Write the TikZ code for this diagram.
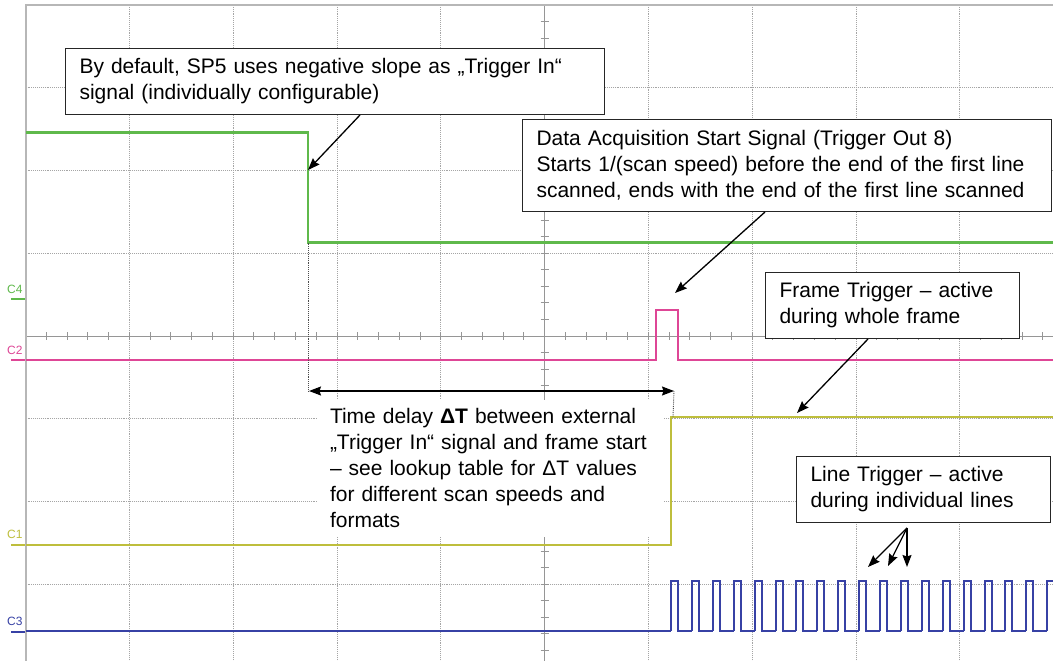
\documentclass[tikz,border=0pt]{standalone}
\usepackage{fontspec}
\setmainfont{Liberation Sans}
\usetikzlibrary{arrows.meta}
\definecolor{trgreen}{RGB}{95,185,75}
\definecolor{trpink}{RGB}{222,70,150}
\definecolor{trolive}{RGB}{190,190,60}
\definecolor{trblue}{RGB}{55,65,165}
\definecolor{gridgray}{RGB}{165,165,165}
\definecolor{axisgray}{RGB}{150,150,150}
\begin{document}
\begin{tikzpicture}[x=1pt,y=-1pt,
  gridline/.style={gridgray,densely dotted,line width=0.9pt},
  axisline/.style={axisgray,line width=1pt},
  borderline/.style={gridgray!80,line width=1.8pt},
  trace/.style={line width=2.2pt,line join=miter},
  callout/.style={draw=black!85,fill=white,line width=1pt,anchor=north west,
    align=left,inner xsep=14pt,inner ysep=0pt,
    font=\fontsize{21}{26}\selectfont},
  plaintext/.style={fill=white,align=left,inner xsep=12pt,inner ysep=0pt,
    font=\fontsize{21}{26}\selectfont},
  chlabel/.style={font=\fontsize{12}{12}\selectfont,inner sep=0pt,anchor=west},
  arr/.style={-{Stealth[length=12pt,width=9pt,inset=1.5pt]},line width=1.3pt,black},
  dblarr/.style={{Stealth[length=12pt,width=9pt,inset=1.5pt]}-{Stealth[length=12pt,width=9pt,inset=1.5pt]},line width=1.3pt,black},
  marker/.style={black!70,densely dotted,line width=0.9pt}]
\useasboundingbox (0,0) rectangle (1053,661);
\clip (0,0) rectangle (1053,661);
\fill[white] (0,0) rectangle (1053,661);

% grid
\foreach \k in {1,2,3,4,6,7,8,9}
  \draw[gridline] ({25.6+103.8*\k},5) -- ({25.6+103.8*\k},661);
\foreach \k in {1,2,3,5,6,7}
  \draw[gridline] (25.6,{5+82.75*\k}) -- (1053,{5+82.75*\k});
% center axes with ticks
\draw[axisline] (25.6,336) -- (1053,336);
\draw[axisline] (544.6,5) -- (544.6,661);
\foreach \k in {1,...,49}
  \draw[axisline] ({25.6+20.76*\k},332) -- ({25.6+20.76*\k},340);
\foreach \k in {1,...,39}
  \draw[axisline] (540.6,{5+16.55*\k}) -- (548.6,{5+16.55*\k});
% border
\draw[borderline] (25.6,661) -- (25.6,5) -- (1053,5);

% channel labels and offset markers
\node[chlabel,text=trgreen] (lc4) at (7,289) {C4};
\node[chlabel,text=trpink] (lc2) at (7,350) {C2};
\node[chlabel,text=trolive] (lc1) at (7,534) {C1};
\node[chlabel,text=trblue] (lc3) at (7,621) {C3};
\draw[trgreen,line width=2.5pt] (11,299) -- (25,299);
\draw[trpink,line width=2.5pt] (11,360) -- (25,360);
\draw[trolive,line width=2.5pt] (11,545) -- (25,545);
\draw[trblue,line width=2.5pt] (11,632) -- (25,632);

% traces
\draw[trace,trgreen,line width=2.8pt] (25.6,132.5) -- (308,132.5) -- (308,242.5) -- (1053,242.5);
\draw[trace,trpink,line width=2pt] (25.6,360) -- (656,360) -- (656,310) -- (678,310) -- (678,360) -- (1053,360);
\draw[trace,trolive,line width=2.4pt] (25.6,545) -- (671,545) -- (671,417) -- (1053,417);
\draw[trace,trblue,line width=2pt] (25.6,631) -- (671,631);
\foreach \k in {0,...,18}
  \draw[trace,trblue,line width=2pt] ({671+20.9*\k},631) -- ({671+20.9*\k},581)
     -- ({678+20.9*\k},581) -- ({678+20.9*\k},631) -- ({691.9+20.9*\k},631);

% time delay markers
\coordinate (gdrop) at (308,242.5);
\coordinate (orise) at (673,417);
\coordinate (d1) at (309,391);
\coordinate (d2) at (674,391);
\draw[marker] (gdrop) -- (308,391);
\draw[marker] (d2) -- (orise);
\draw[dblarr] (d1) -- (d2);

% callouts
\node[callout,minimum height=66pt,text width=511pt] (b1) at (65,48)
  {By default, SP5 uses negative slope as „Trigger In“\\signal (individually configurable)};
\node[callout,minimum height=92pt,text width=501pt] (b2) at (522,119)
  {Data Acquisition Start Signal (Trigger Out 8)\\Starts 1/(scan speed) before the end of the first line\\scanned, ends with the end of the first line scanned};
\node[callout,minimum height=66pt,text width=226pt] (b3) at (765,272)
  {Frame Trigger – active\\during whole frame};
\node[callout,minimum height=66pt,text width=226pt] (b5) at (796,456)
  {Line Trigger – active\\during individual lines};
\node[plaintext,minimum height=137pt,text width=321pt] (b4) at (490.5,468)
  {Time delay \textbf{ΔT} between external\\„Trigger In“ signal and frame start\\– see lookup table for ΔT values\\for different scan speeds and\\formats};

% arrow targets
\coordinate (t1) at (308,170);
\coordinate (t2) at (675,293);
\coordinate (t3) at (797,413);
\coordinate (t5a) at (868,567);
\coordinate (t5b) at (888,566);
\coordinate (t5c) at (907,567);

\draw[arr] ([xshift=295pt]b1.south west) -- (t1);
\draw[arr] ([xshift=243pt]b2.south west) -- (t2);
\draw[arr] ([xshift=103pt]b3.south west) -- (t3);
\coordinate (s5) at ([xshift=111pt,yshift=-5pt]b5.south west);
\draw[arr] (s5) -- (t5a);
\draw[arr] (s5) -- (t5b);
\draw[arr] (s5) -- (t5c);
\end{tikzpicture}
\end{document}
